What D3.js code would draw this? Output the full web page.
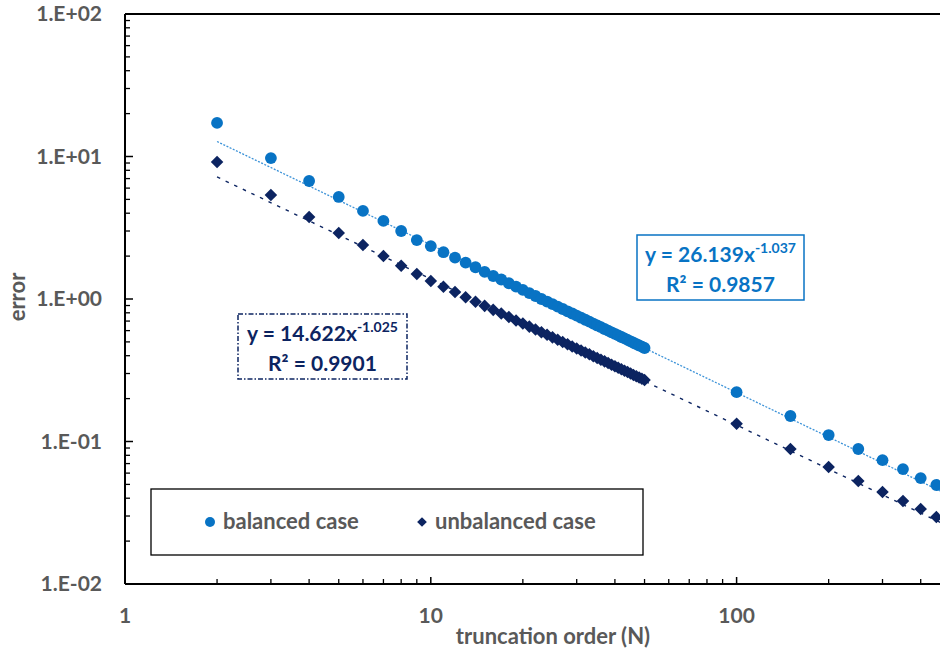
<!DOCTYPE html>
<html>
<head>
<meta charset="utf-8">
<script src="https://cdn.jsdelivr.net/npm/d3@7"></script>
<style>
  body { margin: 0; background: #fff; }
  svg text { font-family: Lato, "Open Sans", sans-serif; font-weight: bold; }
</style>
</head>
<body>
<div class="container"></div>
<script>
// truncation orders
var orders = [2, 3, 4, 5, 6, 7, 8, 9, 10, 11, 12, 13, 14, 15, 16, 17, 18, 19, 20,
    21, 22, 23, 24, 25, 26, 27, 28, 29, 30, 31, 32, 33, 34, 35, 36, 37, 38, 39, 40,
    41, 42, 43, 44, 45, 46, 47, 48, 49, 50, 100, 150, 200, 250, 300, 350, 400, 450];

var balancedError = [17.2, 9.75, 6.73, 5.2, 4.15, 3.53, 3.0, 2.59, 2.35, 2.13, 1.95, 1.80,
    1.67, 1.55, 1.45, 1.37, 1.29, 1.22, 1.16, 1.10, 1.05, 1.00, 0.960, 0.921, 0.884,
    0.851, 0.820, 0.791, 0.764, 0.739, 0.715, 0.693, 0.672, 0.652, 0.634, 0.616, 0.600,
    0.584, 0.569, 0.555, 0.541, 0.529, 0.516, 0.505, 0.493, 0.483, 0.472, 0.463, 0.453,
    0.222, 0.151, 0.111, 0.0886, 0.074, 0.064, 0.0554, 0.0495];

var unbalancedError = [9.14, 5.37, 3.76, 2.90, 2.39, 2.0, 1.71, 1.50, 1.34, 1.22, 1.12, 1.03,
    0.958, 0.895, 0.839, 0.790, 0.747, 0.707, 0.672, 0.640, 0.611, 0.585, 0.561, 0.538,
    0.518, 0.499, 0.481, 0.465, 0.449, 0.435, 0.421, 0.409, 0.397, 0.385, 0.375, 0.365,
    0.355, 0.346, 0.337, 0.329, 0.321, 0.314, 0.307, 0.300, 0.293, 0.287, 0.281, 0.276,
    0.270, 0.133, 0.0886, 0.0662, 0.0528, 0.0442, 0.0382, 0.0336, 0.0295];

// power trendlines y = a * x^b
var balancedFit = { a: 26.139, b: -1.037, r2: "0.9857" };
var unbalancedFit = { a: 14.622, b: -1.025, r2: "0.9901" };

var xTicks = [1, 10, 100];
var yTicks = [0.01, 0.1, 1, 10, 100];
var yTickLabels = ["1.E-02", "1.E-01", "1.E+00", "1.E+01", "1.E+02"];
var seriesNames = ["balanced case", "unbalanced case"];

const WIDTH = 940;
const HEIGHT = 651;
const LEFT = 125;
const TOP = 14;
const BOTTOM = 584;
const BLUE = "#0873c4";
const NAVY = "#0c2461";
const TEXT_GREY = "#595959";

var svg = d3.select('.container').append('svg')
    .attr('width', WIDTH)
    .attr('height', HEIGHT);

var xScale = d3.scaleLog()
    .domain([1, 500])
    .range([LEFT, LEFT + Math.log10(500) * 305.8]);

var yScale = d3.scaleLog()
    .domain([0.01, 100])
    .range([BOTTOM, TOP]);

svg.append('clipPath').attr('id', 'plotClip')
    .append('rect')
    .attr('x', LEFT).attr('y', TOP)
    .attr('width', WIDTH - LEFT).attr('height', BOTTOM - TOP);

// minor tick positions (1..9 per decade)
var minorX = [];
[1, 10, 100].forEach(function (d) {
    for (var k = 2; k <= 9; k++) {
        if (d * k <= 500) minorX.push(d * k);
    }
});
var minorY = [];
[0.01, 0.1, 1, 10].forEach(function (d) {
    for (var k = 2; k <= 9; k++) minorY.push(d * k);
});

var axes = svg.append('g').attr('stroke', '#000');

// top border
axes.append('line')
    .attr('x1', LEFT).attr('x2', WIDTH)
    .attr('y1', TOP).attr('y2', TOP)
    .attr('stroke-width', 2);

// y axis
axes.append('line')
    .attr('x1', LEFT).attr('x2', LEFT)
    .attr('y1', TOP).attr('y2', BOTTOM)
    .attr('stroke-width', 2);
axes.selectAll('.ymin').data(minorY).enter().append('line')
    .attr('x1', LEFT).attr('x2', LEFT + 5)
    .attr('y1', function (d) { return yScale(d); })
    .attr('y2', function (d) { return yScale(d); })
    .attr('stroke-width', 1.3);
axes.selectAll('.ymaj').data(yTicks).enter().append('line')
    .attr('x1', LEFT).attr('x2', LEFT + 8)
    .attr('y1', function (d) { return yScale(d); })
    .attr('y2', function (d) { return yScale(d); })
    .attr('stroke-width', 1.5);

// x axis
axes.append('line')
    .attr('x1', LEFT).attr('x2', WIDTH)
    .attr('y1', BOTTOM).attr('y2', BOTTOM)
    .attr('stroke-width', 2);
axes.selectAll('.xmin').data(minorX).enter().append('line')
    .attr('x1', function (d) { return xScale(d); })
    .attr('x2', function (d) { return xScale(d); })
    .attr('y1', BOTTOM).attr('y2', BOTTOM - 5)
    .attr('stroke-width', 1.3);
axes.selectAll('.xmaj').data(xTicks).enter().append('line')
    .attr('x1', function (d) { return xScale(d); })
    .attr('x2', function (d) { return xScale(d); })
    .attr('y1', BOTTOM).attr('y2', BOTTOM - 7)
    .attr('stroke-width', 1.5);

// tick labels
svg.selectAll('.ylab').data(yTicks).enter().append('text')
    .attr('x', 102)
    .attr('y', function (d) { return yScale(d) + 7; })
    .attr('text-anchor', 'end')
    .attr('font-size', 21)
    .attr('fill', TEXT_GREY)
    .text(function (d, i) { return yTickLabels[i]; });

svg.selectAll('.xlab').data(xTicks).enter().append('text')
    .attr('x', function (d) { return xScale(d); })
    .attr('y', 623)
    .attr('text-anchor', 'middle')
    .attr('font-size', 21)
    .attr('fill', TEXT_GREY)
    .text(function (d) { return d; });

// axis titles
svg.append('text')
    .attr('x', 553).attr('y', 644)
    .attr('text-anchor', 'middle')
    .attr('font-size', 22)
    .attr('fill', TEXT_GREY)
    .text('truncation order (N)');

svg.append('text')
    .attr('transform', 'translate(25,297) rotate(-90)')
    .attr('text-anchor', 'middle')
    .attr('font-size', 22)
    .attr('fill', TEXT_GREY)
    .text('error');

var plot = svg.append('g').attr('clip-path', 'url(#plotClip)');

// trendlines
var fitLine = function (fit) {
    var xs = d3.range(0, 101).map(function (i) {
        return Math.pow(10, Math.log10(2) + i / 100 * (Math.log10(500) - Math.log10(2)));
    });
    return d3.line()
        .x(function (x) { return xScale(x); })
        .y(function (x) { return yScale(fit.a * Math.pow(x, fit.b)); })(xs);
};

plot.append('path')
    .attr('d', fitLine(balancedFit))
    .attr('fill', 'none')
    .attr('stroke', '#3d93d8')
    .attr('stroke-width', 1.3)
    .attr('stroke-dasharray', '2,1.5');

plot.append('path')
    .attr('d', fitLine(unbalancedFit))
    .attr('fill', 'none')
    .attr('stroke', NAVY)
    .attr('stroke-width', 1.4)
    .attr('stroke-dasharray', '3.5,6');

// markers
var diamond = d3.symbol().type(d3.symbolDiamond2).size(100);

plot.selectAll('.unbal').data(orders).enter().append('path')
    .attr('d', diamond)
    .attr('transform', function (x, i) {
        return 'translate(' + xScale(x) + ',' + yScale(unbalancedError[i]) + ')';
    })
    .attr('fill', NAVY);

plot.selectAll('.bal').data(orders).enter().append('circle')
    .attr('cx', function (x) { return xScale(x); })
    .attr('cy', function (x, i) { return yScale(balancedError[i]); })
    .attr('r', 5.9)
    .attr('fill', BLUE);

// equation labels
var equationBox = function (fit, x, y, w, h, color, dash) {
    var g = svg.append('g');
    g.append('rect')
        .attr('x', x).attr('y', y).attr('width', w).attr('height', h)
        .attr('fill', '#fff')
        .attr('stroke', color)
        .attr('stroke-width', 1.5)
        .attr('stroke-dasharray', dash);
    var cx = x + w / 2;
    var t1 = g.append('text')
        .attr('x', cx).attr('y', y + 27)
        .attr('text-anchor', 'middle')
        .attr('font-size', 21)
        .attr('fill', color);
    t1.append('tspan').text('y = ' + fit.a.toFixed(3) + 'x');
    t1.append('tspan').attr('dy', -9).attr('font-size', 14).text(fit.b.toFixed(3));
    g.append('text')
        .attr('x', cx).attr('y', y + 57)
        .attr('text-anchor', 'middle')
        .attr('font-size', 21)
        .attr('fill', color)
        .text('R\u00b2 = ' + fit.r2);
};

equationBox(balancedFit, 637, 235, 167, 65, BLUE, null);
equationBox(unbalancedFit, 238, 314, 169, 65, NAVY, '5,2,1.5,2');

// legend
var legend = svg.append('g');
legend.append('rect')
    .attr('x', 151).attr('y', 489).attr('width', 492).attr('height', 66)
    .attr('fill', '#fff')
    .attr('stroke', '#000')
    .attr('stroke-width', 1.3);
legend.append('circle')
    .attr('cx', 210).attr('cy', 522).attr('r', 5).attr('fill', BLUE);
legend.append('text')
    .attr('x', 223).attr('y', 529)
    .attr('font-size', 22).attr('fill', TEXT_GREY)
    .text(seriesNames[0]);
legend.append('path')
    .attr('d', d3.symbol().type(d3.symbolDiamond2).size(60))
    .attr('transform', 'translate(422,522)')
    .attr('fill', NAVY);
legend.append('text')
    .attr('x', 435).attr('y', 529)
    .attr('font-size', 22).attr('fill', TEXT_GREY)
    .text(seriesNames[1]);
</script>
</body>
</html>
